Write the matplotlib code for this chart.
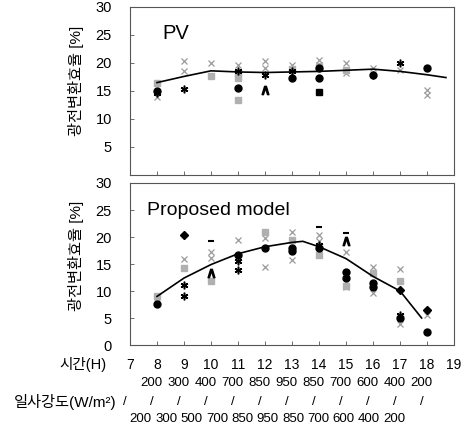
import matplotlib
matplotlib.use("Agg")
import matplotlib.pyplot as plt
import matplotlib.transforms as mtransforms

plt.rcParams["font.family"] = ["Liberation Sans", "Noto Sans CJK KR"]

# ---- data ----
hours = list(range(7, 20))
irr_start = [200, 300, 400, 700, 850, 950, 850, 700, 600, 400, 200]   # hours 8..18
irr_end = [200, 300, 500, 700, 850, 950, 850, 700, 600, 400, 200]

# PV panel
pv_line_h = [8, 9, 10, 11, 12, 13, 14, 15, 16, 17, 18, 18.7]
pv_line_v = [16.5, 17.6, 18.6, 18.4, 18.3, 18.4, 18.5, 18.7, 18.9, 18.5, 17.9, 17.4]
pv_dot_h = [8, 11, 13, 14, 14, 16, 18]
pv_dot_v = [15.0, 15.5, 17.3, 19.1, 17.3, 17.9, 19.1]
pv_x_h = [8, 9, 9, 10, 11, 12, 12, 13, 14, 14, 15, 15, 16, 17, 18, 18]
pv_x_v = [14.0, 20.3, 18.5, 20.0, 19.7, 20.3, 19.1, 19.7, 20.6, 19.7, 20.0, 18.2, 19.1, 18.8, 15.2, 14.3]
pv_star_h = [8, 9, 11, 12, 13, 16, 17]
pv_star_v = [14.6, 15.4, 18.5, 17.9, 18.5, 17.9, 20.0]
pv_sq_h = [8, 10, 11, 11, 13, 14, 15, 11]
pv_sq_v = [16.5, 17.6, 18.2, 17.3, 19.0, 19.4, 18.8, 13.4]
pv_caret_h = [12]
pv_caret_v = [15.2]
pv_bsq_h = [14]
pv_bsq_v = [14.9]

# proposed model panel
pm_line_h = [8, 9, 10, 11, 12, 13, 13.4, 14, 15, 16, 17, 17.8]
pm_line_v = [9.0, 12.4, 14.9, 16.9, 18.2, 19.0, 19.2, 18.2, 16.0, 12.7, 10.0, 5.0]
pm_dot_h = [11, 12, 13, 13, 14, 15, 15, 16, 16, 17, 18, 8]
pm_dot_v = [16.7, 17.9, 17.9, 17.4, 17.9, 13.6, 12.4, 11.5, 10.8, 5.0, 2.5, 7.6]
pm_dia_h = [9, 17, 18]
pm_dia_v = [20.4, 10.1, 6.5]
pm_x_h = [8, 9, 10, 10, 11, 12, 12, 13, 13, 14, 14, 15, 15, 16, 16, 17, 17, 18]
pm_x_v = [8.0, 15.9, 17.3, 16.1, 19.5, 19.8, 14.5, 21.0, 15.8, 20.4, 19.2, 17.3, 10.8, 14.5, 9.6, 14.0, 3.8, 5.6]
pm_star_h = [9, 9, 11, 11, 14, 17]
pm_star_v = [11.2, 9.0, 15.5, 13.9, 18.5, 5.6]
pm_sq_h = [8, 9, 10, 12, 13, 14, 15, 16, 17]
pm_sq_v = [9.0, 14.2, 11.8, 21.0, 19.5, 16.7, 11.0, 13.3, 11.8]
pm_dash_h = [10, 14, 15]
pm_dash_v = [19.2, 21.9, 20.7]
pm_caret_h = [10, 15]
pm_caret_v = [13.3, 19.2]

fig = plt.figure(figsize=(4.65, 4.24), dpi=100)
ax_pv = fig.add_axes([0.2796, 0.5873, 0.6968, 0.3962])
ax_pm = fig.add_axes([0.2796, 0.1863, 0.6968, 0.3821])

GRAY = "#9a9a9a"


def draw_marks(ax, dot, dia, xs, star, sq, caret, dash=None, bsq=None):
    ax.plot(*dot, "o", color="black", ms=5, ls="none", zorder=4)
    if dia is not None:
        ax.plot(*dia, "D", color="black", ms=4.5, ls="none", zorder=4)
    ax.plot(*xs, "x", color=GRAY, ms=5, mew=0.9, ls="none", zorder=3)
    ax.plot(*star, marker=(6, 2, 0), color="black", ms=5.5, mew=1.1, ls="none", zorder=4)
    ax.plot(*sq, "s", color="#b0b0b0", ms=4, ls="none", zorder=3)
    ax.plot(*caret, marker="$\\wedge$", color="black", ms=6, ls="none", zorder=4)
    if dash is not None:
        ax.plot(*dash, "_", color="black", ms=5, mew=1.5, ls="none", zorder=4)
    if bsq is not None:
        ax.plot(*bsq, "s", color="black", ms=4, ls="none", zorder=4)


ax_pv.plot(pv_line_h, pv_line_v, color="black", lw=1.2, zorder=5)
draw_marks(ax_pv, (pv_dot_h, pv_dot_v), None, (pv_x_h, pv_x_v), (pv_star_h, pv_star_v),
           (pv_sq_h, pv_sq_v), (pv_caret_h, pv_caret_v), bsq=(pv_bsq_h, pv_bsq_v))

ax_pm.plot(pm_line_h, pm_line_v, color="black", lw=1.2, zorder=5)
draw_marks(ax_pm, (pm_dot_h, pm_dot_v), (pm_dia_h, pm_dia_v), (pm_x_h, pm_x_v),
           (pm_star_h, pm_star_v), (pm_sq_h, pm_sq_v), (pm_caret_h, pm_caret_v),
           dash=(pm_dash_h, pm_dash_v))

for ax in (ax_pv, ax_pm):
    ax.set_xlim(7, 19)
    ax.set_ylim(0, 30)
    ax.set_xticks(hours)
    ax.set_yticks(range(0, 31, 5))
    ax.tick_params(direction="in", length=3, width=0.6, color="#555", labelsize=10.5, pad=13)
    ax.tick_params(axis="x", pad=9, labelsize=10)
    for sp in ax.spines.values():
        sp.set_linestyle((0, (1.5, 1)))
        sp.set_linewidth(0.8)
        sp.set_color("#555")

ax_pv.set_xticklabels([])
ax_pv.set_yticklabels([""] + [str(v) for v in range(5, 31, 5)])
ax_pm.set_xticklabels([str(h) for h in hours])

ax_pv.text(8.2, 24.2, "PV", fontsize=14.5)
ax_pm.text(7.62, 24.1, "Proposed model", fontsize=14)

ylab = "광전변환효율 [%]"
fig.text(76 / 465, 1 - 81 / 424, ylab, rotation=90, ha="center", va="center", fontsize=11)
fig.text(76 / 465, 1 - 256 / 424, ylab, rotation=90, ha="center", va="center", fontsize=11)

# irradiance table below the time axis
trans = mtransforms.blended_transform_factory(ax_pm.transData, fig.transFigure)
fig.text(106 / 465, 1 - 365 / 424, "시간(H)", ha="right", va="center", fontsize=10.5)
fig.text(116 / 465, 1 - 402 / 424, "일사강도(W/m²)", ha="right", va="center", fontsize=11)
for i, v in enumerate(irr_start):
    ax_pm.text(8 + i - 0.2, 1 - 383 / 424, str(v), transform=trans, ha="center", va="center", fontsize=9.5)
for i in range(12):
    ax_pm.text(7 + i - 0.2, 1 - 402 / 424, "/", transform=trans, ha="center", va="center", fontsize=9.5)
for i, v in enumerate(irr_end):
    ax_pm.text(7.4 + i * 0.94, 1 - 419 / 424, str(v), transform=trans, ha="center", va="center", fontsize=9.5)

fig.savefig("out.png", dpi=100)
